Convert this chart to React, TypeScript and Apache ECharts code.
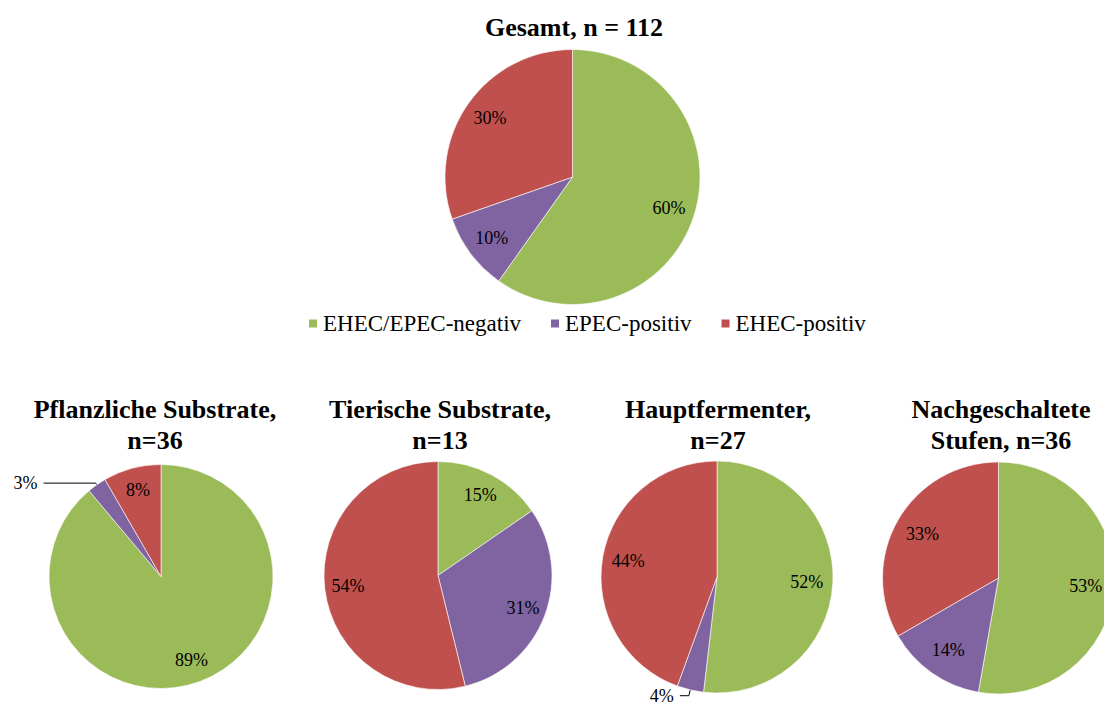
import React, { useEffect, useRef } from 'react';
import * as echarts from 'echarts';

// Categories (legend) and slice counts per panel
const categories = ['EHEC/EPEC-negativ', 'EPEC-positiv', 'EHEC-positiv'];
const gesamt = [67, 11, 34];
const pflanzliche = [32, 1, 3];
const tierische = [2, 4, 7];
const hauptfermenter = [14, 1, 12];
const nachgeschaltete = [19, 5, 12];
const panelTitles = [
  'Gesamt, n = 112',
  'Pflanzliche Substrate,\nn=36',
  'Tierische Substrate,\nn=13',
  'Hauptfermenter,\nn=27',
  'Nachgeschaltete\nStufen, n=36',
];

const COLORS = ['#9BBB59', '#8064A2', '#C0504D'];
const FONT = 'Liberation Serif, Times New Roman, serif';

type Panel = {
  values: number[];
  title: string;
  cx: number;
  cy: number;
  r: number;
  titleX: number;
  titleY: number;
  inner: number;
  outside?: { index: number; length: number; length2: number };
};

const panels: Panel[] = [
  { values: gesamt, title: panelTitles[0], cx: 572.5, cy: 177, r: 127.5, titleX: 574, titleY: 11.6, inner: 0.54 },
  { values: pflanzliche, title: panelTitles[1], cx: 161, cy: 576.5, r: 112, titleX: 155, titleY: 393.6, inner: 0.54, outside: { index: 1, length: 2, length2: 52 } },
  { values: tierische, title: panelTitles[2], cx: 438, cy: 575.5, r: 114, titleX: 440, titleY: 393.6, inner: 0.54 },
  { values: hauptfermenter, title: panelTitles[3], cx: 717, cy: 577, r: 116, titleX: 718, titleY: 393.6, inner: 0.5, outside: { index: 1, length: 6, length2: 9 } },
  { values: nachgeschaltete, title: panelTitles[4], cx: 998.5, cy: 578, r: 116, titleX: 1001, titleY: 393.6, inner: 0.46 },
];

export default function App() {
  const ref = useRef<HTMLDivElement>(null);

  useEffect(() => {
    if (!ref.current) return;
    const chart = echarts.init(ref.current, undefined, { renderer: 'svg' });

    const series: any[] = [];
    panels.forEach((p) => {
      series.push({
        type: 'pie',
        center: [p.cx, p.cy],
        radius: [0, p.r],
        startAngle: 90,
        clockwise: true,
        silent: true,
        avoidLabelOverlap: false,
        label: { show: false },
        labelLine: { show: false },
        itemStyle: { borderColor: '#ffffff', borderWidth: 0.6 },
        data: p.values.map((v, i) => ({
          name: categories[i],
          value: v,
          itemStyle: { color: COLORS[i] },
        })),
      });
      series.push({
        type: 'pie',
        center: [p.cx, p.cy],
        radius: [p.r * p.inner, p.r],
        startAngle: 90,
        clockwise: true,
        silent: true,
        avoidLabelOverlap: false,
        legendHoverLink: false,
        itemStyle: { color: 'rgba(0,0,0,0)', borderWidth: 0 },
        label: {
          show: true,
          position: 'inside',
          color: '#000',
          fontSize: 18,
          fontFamily: FONT,
          textBorderWidth: 0,
          formatter: (prm: any) => Math.round(prm.percent) + '%',
        },
        labelLine: { show: false },
        data: p.values.map((v, i) => {
          const d: any = { name: categories[i], value: v };
          if (p.outside && p.outside.index === i) {
            d.label = { position: 'outside', distanceToLabelLine: 6 };
            d.labelLine = {
              show: true,
              length: p.outside.length,
              length2: p.outside.length2,
              smooth: false,
              lineStyle: { color: '#000', width: 1 },
            };
          }
          return d;
        }),
      });
    });

    const graphic = panels.map((p) => ({
      type: 'text',
      x: p.titleX,
      y: p.titleY,
      silent: true,
      style: {
        text: p.title,
        fill: '#000',
        fontSize: 26,
        fontWeight: 'bold',
        fontFamily: FONT,
        align: 'center',
        textAlign: 'center',
        verticalAlign: 'top',
        textVerticalAlign: 'top',
        lineHeight: 31,
      },
    }));

    chart.setOption({
      animation: false,
      backgroundColor: '#ffffff',
      textStyle: { fontFamily: FONT },
      legend: {
        left: 307,
        top: 312,
        padding: 0,
        itemWidth: 10,
        itemHeight: 10,
        itemGap: 28,
        icon: 'rect',
        selectedMode: false,
        textStyle: { fontSize: 23, fontFamily: FONT, color: '#000' },
        data: categories.map((n, i) => ({ name: n, itemStyle: { color: COLORS[i] } })),
      },
      graphic,
      series,
    });

    return () => chart.dispose();
  }, []);

  return (
    <div
      ref={ref}
      style={{ position: 'fixed', left: 0, top: 0, width: 1104, height: 706, background: '#fff' }}
    />
  );
}
